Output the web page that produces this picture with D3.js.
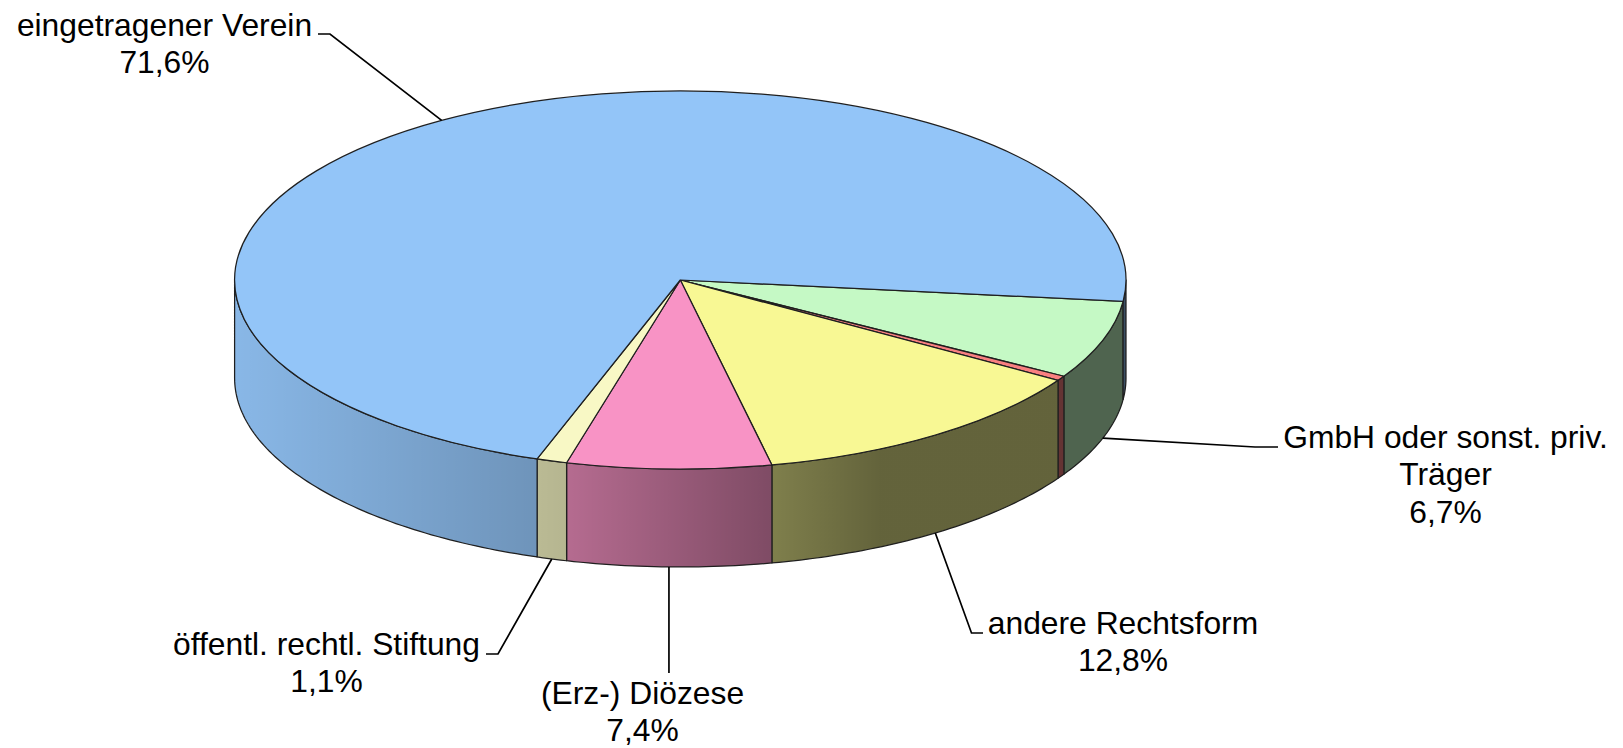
<!DOCTYPE html>
<html lang="de">
<head>
<meta charset="utf-8">
<title>Rechtsform</title>
<script src="https://d3js.org/d3.v7.min.js"></script>
<style>
  html, body { margin: 0; background: #fff; }
  svg { display: block; }
  .label { font-family: "Liberation Sans", Arial, sans-serif; font-size: 31.8px; fill: #000; text-anchor: middle; }
  .leader { fill: none; stroke: #000; stroke-width: 1.7px; }
  .edge { stroke: #1f1f1f; stroke-width: 1.25px; stroke-linejoin: round; }
  .top { vector-effect: non-scaling-stroke; }
</style>
</head>
<body>
<script>
// slices run clockwise, starting at the green one
var categories = ["GmbH oder sonst. priv. Träger", "", "andere Rechtsform", "(Erz-) Diözese", "öffentl. rechtl. Stiftung", "eingetragener Verein"];
var values = [6.7, 0.4, 12.8, 7.4, 1.1, 71.6];
var colors = ["#c5f9c5", "#f98080", "#f8f894", "#f893c5", "#f8f8c5", "#93c5f8"];

var width = 1623, height = 748;
var cx = 680.3, cy = 280, rx = 445.7, ry = 189, depth = 98;
var startDeg = 96.5;

// wrapped label lines, text centre and first baseline, leader elbow (null x = straight down from the rim)
var labelLayout = [
  {lines: ["GmbH oder sonst. priv.", "Träger"], x: 1445.5, y: 448, elbow: [[1255, 447], [1278, 447]]},
  null,
  {lines: ["andere Rechtsform"], x: 1123, y: 634, elbow: [[971.5, 633], [983, 633]]},
  {lines: ["(Erz-) Diözese"], x: 642.5, y: 704, elbow: [[null, 673]]},
  {lines: ["öffentl. rechtl. Stiftung"], x: 326.5, y: 655, elbow: [[498, 654], [486, 654]]},
  {lines: ["eingetragener Verein"], x: 164.5, y: 35.5, elbow: [[330, 34], [318, 34]]}
];

var svg = d3.select("body").append("svg")
    .attr("width", width)
    .attr("height", height);

// darkening of the wall, by screen x
var shade = svg.append("defs").append("linearGradient")
    .attr("id", "shade")
    .attr("gradientUnits", "userSpaceOnUse")
    .attr("x1", cx - rx).attr("x2", cx + rx)
    .attr("y1", 0).attr("y2", 0);
[[235, 0.07], [538, 0.25], [567, 0.27], [773, 0.49], [880, 0.6], [1126, 0.6]].forEach(function(s) {
  shade.append("stop")
      .attr("offset", (s[0] - (cx - rx)) / (2 * rx))
      .attr("stop-color", "#000")
      .attr("stop-opacity", s[1]);
});

var pie = d3.pie()
    .sort(null)
    .startAngle(startDeg * Math.PI / 180)
    .endAngle(startDeg * Math.PI / 180 + 2 * Math.PI);
var slices = pie(values);
slices.forEach(function(d, i) { d.i = i; });

function px(a) { return cx + rx * Math.sin(a); }
function py(a) { return cy - ry * Math.cos(a); }

// the front half of the rim, split per slice
function wallParts(d) {
  var parts = [];
  [[0.5, 1.5], [2.5, 3.5]].forEach(function(w) {
    var a0 = Math.max(d.startAngle, w[0] * Math.PI), a1 = Math.min(d.endAngle, w[1] * Math.PI);
    if (a1 > a0) parts.push([a0, a1]);
  });
  return parts;
}

function wallPath(p) {
  var n = Math.max(2, Math.ceil((p[1] - p[0]) * 60));
  var angles = d3.range(n + 1).map(function(k) { return p[0] + (p[1] - p[0]) * k / n; });
  var pts = angles.map(function(a) { return [px(a), py(a)]; })
      .concat(angles.slice().reverse().map(function(a) { return [px(a), py(a) + depth]; }));
  return d3.line()(pts) + "Z";
}

var walls = svg.append("g").selectAll("g")
    .data(slices.flatMap(function(d) {
      return wallParts(d).map(function(p) { return {p: p, i: d.i}; });
    }))
    .enter().append("g");

walls.append("path")
    .attr("d", function(d) { return wallPath(d.p); })
    .attr("fill", function(d) { return colors[d.i]; });

walls.append("path")
    .attr("class", "edge")
    .attr("d", function(d) { return wallPath(d.p); })
    .attr("fill", "url(#shade)");

var arc = d3.arc().innerRadius(0).outerRadius(rx);

svg.append("g")
    .attr("transform", "translate(" + cx + "," + cy + ") scale(1," + (ry / rx) + ")")
  .selectAll("path")
    .data(slices)
    .enter().append("path")
    .attr("class", "top edge")
    .attr("d", arc)
    .attr("fill", function(d) { return colors[d.i]; });

var fmt = d3.formatLocale({decimal: ",", thousands: ".", grouping: [3], currency: ["", "€"]}).format(".1f");
var lineGap = 37.4;

slices.forEach(function(d) {
  var l = labelLayout[d.i];
  if (!l) return;
  var mid = (d.startAngle + d.endAngle) / 2;
  var front = Math.cos(mid) < 0;
  var anchor = [px(mid), py(mid) + (front ? depth : 0)];
  var elbow = l.elbow.map(function(e) { return [e[0] === null ? anchor[0] : e[0], e[1]]; });
  svg.append("path")
      .attr("class", "leader")
      .attr("d", d3.line()([anchor].concat(elbow)));
  var t = svg.append("text").attr("class", "label");
  l.lines.concat(fmt(d.value) + "%").forEach(function(s, k) {
    t.append("tspan")
        .attr("x", l.x)
        .attr("y", l.y + k * lineGap)
        .text(s);
  });
});
</script>
</body>
</html>
